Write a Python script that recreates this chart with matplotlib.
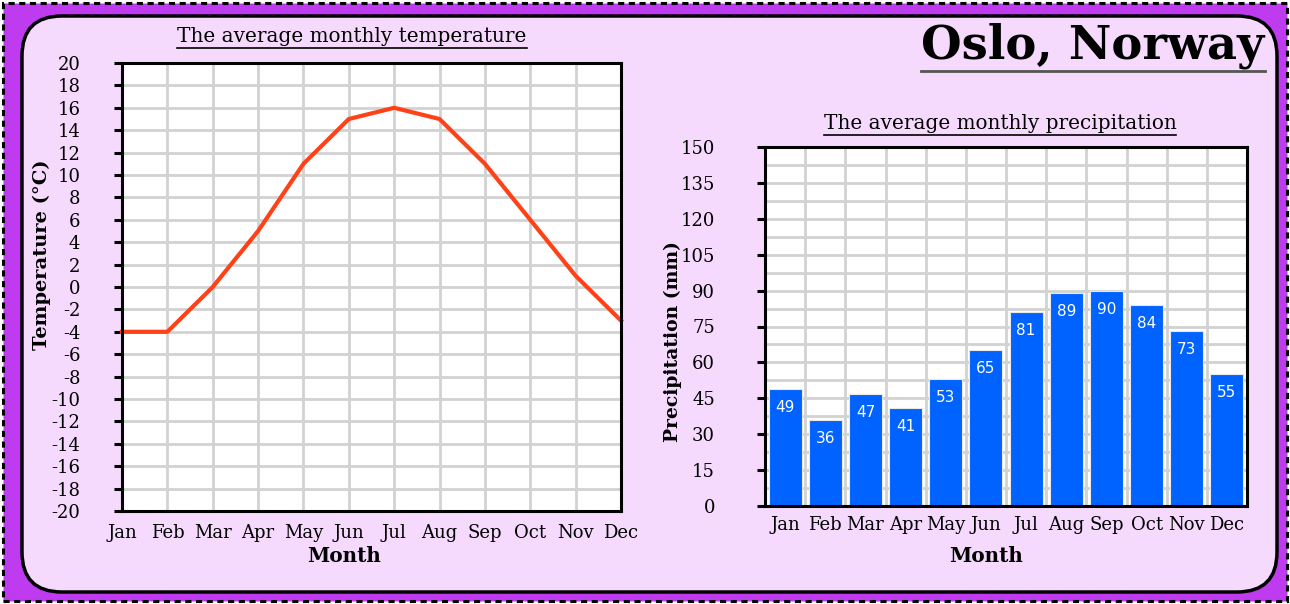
import matplotlib
matplotlib.use('Agg')
import matplotlib.pyplot as plt
from matplotlib.patches import Rectangle, FancyBboxPatch
from matplotlib.lines import Line2D

# data
months = ['Jan', 'Feb', 'Mar', 'Apr', 'May', 'Jun',
          'Jul', 'Aug', 'Sep', 'Oct', 'Nov', 'Dec']
temperature = [-4, -4, 0, 5, 11, 15, 16, 15, 11, 6, 1, -3]
precipitation = [49, 36, 47, 41, 53, 65, 81, 89, 90, 84, 73, 55]
temp_ticks = list(range(-20, 21, 2))
prec_ticks = list(range(0, 151, 15))

SERIF = 'DejaVu Serif'
PURPLE = '#BF3BEF'
LAVENDER = '#F5DAFD'
GRID = '#D2D2D2'
W, H = 1290, 604

plt.rcParams['axes.unicode_minus'] = False

fig = plt.figure(figsize=(W / 100, H / 100), dpi=100)
fig.patch.set_facecolor('white')

# outer dashed purple frame
fig.add_artist(Rectangle((3 / W, 3 / H), 1 - 6 / W, 1 - 6 / H, transform=fig.transFigure,
                         facecolor=PURPLE, edgecolor='black', lw=2.2,
                         linestyle=(0, (2, 1.5)), zorder=-10))
# inner rounded card (pixel coords)
fig.add_artist(FancyBboxPatch((22, 12), 1255, 576,
                              boxstyle='round,pad=0,rounding_size=40',
                              transform=None, facecolor=LAVENDER,
                              edgecolor='black', lw=2.5, zorder=-9))


def px_axes(x0, y0, x1, y1):
    return fig.add_axes([x0 / W, 1 - y1 / H, (x1 - x0) / W, (y1 - y0) / H])


def style_axes(ax, ypad):
    ax.set_facecolor('white')
    for s in ax.spines.values():
        s.set_color('black')
        s.set_linewidth(2.2)
        s.set_zorder(5)
    ax.tick_params(axis='y', length=6, width=2.2, color='black', labelsize=13, pad=ypad)
    ax.tick_params(axis='x', length=0, labelsize=13, pad=9)
    for lab in ax.get_xticklabels() + ax.get_yticklabels():
        lab.set_fontfamily(SERIF)
    ax.set_axisbelow(True)


# temperature line chart
ax1 = px_axes(122, 63, 621, 511)
ax1.plot(range(len(months)), temperature, color='#FF4118', lw=3, zorder=3, clip_on=False)
ax1.set_xlim(0, len(months) - 1)
ax1.set_ylim(-20, 20)
ax1.set_xticks(range(len(months)))
ax1.set_xticklabels(months)
ax1.set_yticks(temp_ticks)
ax1.grid(True, color=GRID, lw=2)
style_axes(ax1, 24)

# precipitation bar chart
ax2 = px_axes(765, 147, 1247, 506)
bars = ax2.bar(range(len(months)), precipitation, width=0.82, color='#0062FF',
               edgecolor='#E8E8E8', lw=0.8, zorder=3)
ax2.set_xlim(-0.5, len(months) - 0.5)
ax2.set_ylim(0, 150)
ax2.set_xticks(range(len(months)))
ax2.set_xticklabels(months)
ax2.set_xticks([i - 0.5 for i in range(1, len(months))], minor=True)
ax2.set_yticks(prec_ticks)
ax2.set_yticks([t + 7.5 for t in prec_ticks[:-1]], minor=True)
ax2.tick_params(axis='both', which='minor', length=0)
ax2.grid(True, which='major', axis='y', color=GRID, lw=2)
ax2.grid(True, which='minor', axis='both', color=GRID, lw=2)
style_axes(ax2, 30)
ax2.tick_params(axis='x', pad=7)
for i, v in enumerate(precipitation):
    ax2.annotate(str(v), (i, v), xytext=(0, -11), textcoords='offset pixels',
                 ha='center', va='top', color='white', fontsize=11,
                 fontfamily='DejaVu Sans', zorder=4)


# titles and labels
def fig_text(x, y, s, **kw):
    return fig.text(x / W, 1 - y / H, s, ha='center', va='center', **kw)


t1 = fig_text(352, 36, 'The average monthly temperature', fontsize=14.4, fontfamily=SERIF)
t2 = fig_text(1000, 124, 'The average monthly precipitation', fontsize=14.4, fontfamily=SERIF)
t3 = fig_text(1093, 46, 'Oslo, Norway', fontsize=33.5, fontweight='bold', fontfamily=SERIF)
fig_text(42, 255, 'Temperature (°C)', rotation=90, fontsize=14, fontweight='bold', fontfamily=SERIF)
fig_text(673, 342, 'Precipitation (mm)', rotation=90, fontsize=13.5, fontweight='bold', fontfamily=SERIF)
fig_text(344, 556, 'Month', fontsize=14.4, fontweight='bold', fontfamily=SERIF)
fig_text(986, 556, 'Month', fontsize=14.4, fontweight='bold', fontfamily=SERIF)

# underline the titles
renderer = fig.canvas.get_renderer()
for t, color, lw in [(t1, 'black', 1.2), (t2, 'black', 1.2), (t3, '#555555', 2)]:
    bb = t.get_window_extent(renderer).transformed(fig.transFigure.inverted())
    y = bb.y0 - 2 / H
    fig.add_artist(Line2D([bb.x0, bb.x1], [y, y], color=color, lw=lw,
                          transform=fig.transFigure))

fig.savefig('out.png', dpi=100, facecolor=fig.get_facecolor())
